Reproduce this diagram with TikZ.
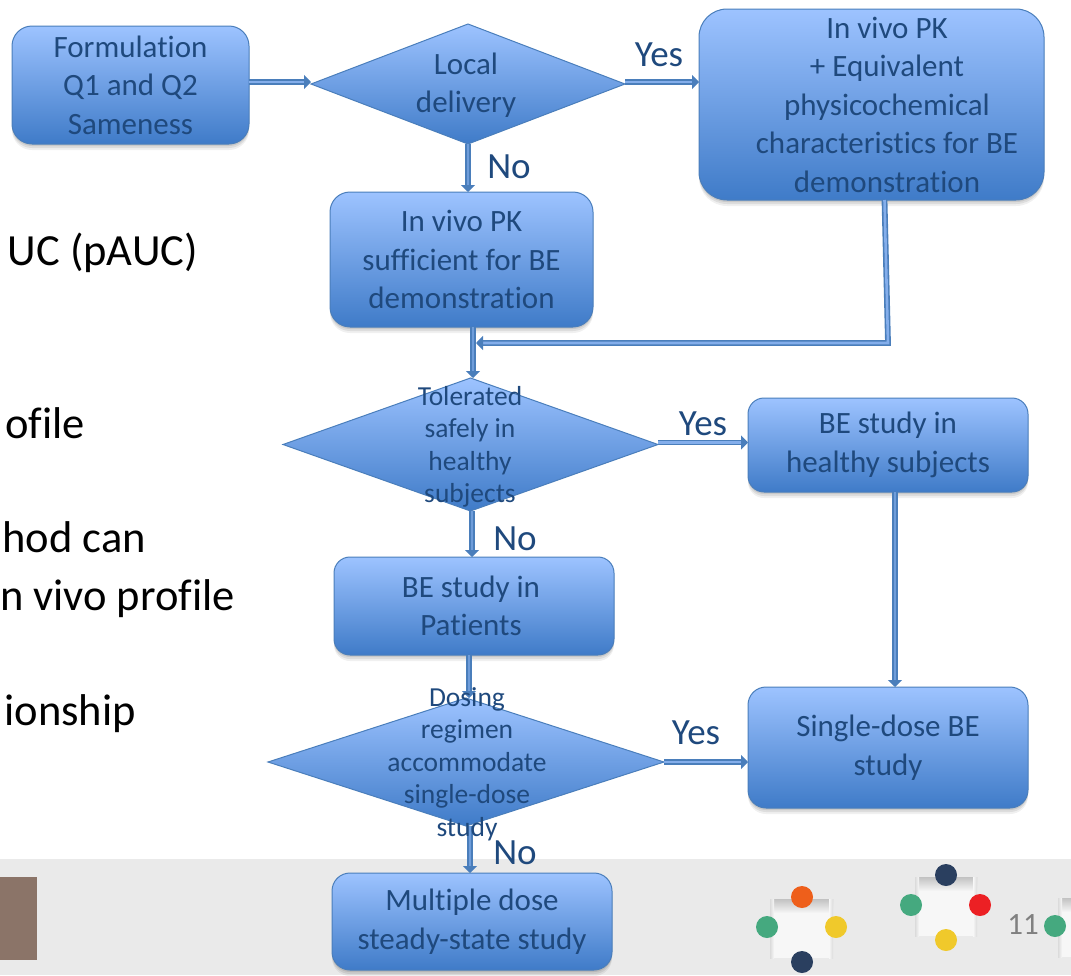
\documentclass[tikz,border=0pt]{standalone}
\usepackage{fontspec}
\setmainfont[Ligatures={NoCommon}]{Carlito}
\usetikzlibrary{arrows.meta,shapes.geometric,shadows,calc}
\definecolor{txt}{HTML}{1F497D}
\definecolor{edge}{HTML}{4A7EBB}
\definecolor{topc}{HTML}{9DC3FF}
\definecolor{botc}{HTML}{3F7BC8}
\definecolor{band}{HTML}{EAEAEA}
\definecolor{dgreen}{HTML}{45A97F}
\definecolor{dyellow}{HTML}{F0C92B}
\definecolor{dorange}{HTML}{EE5F1B}
\definecolor{dnavy}{HTML}{2A3F5F}
\definecolor{dred}{HTML}{EC2024}
\definecolor{brownblock}{HTML}{8B7468}
\tikzset{
  softshadow/.style={
    drop shadow={shadow xshift=0pt,shadow yshift=-2pt,opacity=.09,fill=black},
    drop shadow={shadow xshift=0pt,shadow yshift=-4pt,opacity=.08,fill=black},
    drop shadow={shadow xshift=0pt,shadow yshift=-6pt,opacity=.06,fill=black}},
  flowbox/.style={rectangle,rounded corners=#1,draw=edge,line width=1pt,top color=topc,bottom color=botc,
    softshadow,inner sep=0pt,outer sep=0pt,align=center,text=txt,font=\fontsize{31}{38.5}\selectfont},
  flowbox/.default=20pt,
  boxtext/.style={align=center,text=txt,inner sep=0pt,font=\fontsize{31}{38.5}\selectfont},
  decision/.style={diamond,draw=edge,line width=1pt,top color=topc,bottom color=botc,inner sep=0pt,outer sep=0pt},
  dectext/.style={align=center,text=txt,inner sep=0pt,font=\fontsize{27.5}{32.4}\selectfont},
  branch/.style={text=txt,inner sep=0pt,font=\fontsize{37}{40}\selectfont},
  bgtext/.style={anchor=base east,text=black,inner sep=0pt,font=\fontsize{44.5}{48}\selectfont},
  link/.style={draw=edge,line width=1.6pt,double=topc!70!edge,double distance=2.6pt},
  arrowlink/.style={link,-{Triangle[width=14pt,length=7pt,fill=edge]}},
  vertlink/.style={arrowlink,line width=2.2pt,double distance=2pt,double=topc!45!edge},
  dot/.style={circle,inner sep=0pt,minimum size=22pt,fill=#1}
}
\begin{document}
\begin{tikzpicture}[x=1pt,y=-1pt]
\useasboundingbox (0,0) rectangle (1071,975);
\clip (0,0) rectangle (1071,975);
% footer band
\fill[band] (0,859) rectangle (1071,975);
\fill[brownblock] (0,877) rectangle (37,960);
% decorative squares
\foreach \xa/\ya/\xb/\yb in {770/899/833/958, 915/877/977/936, 1058/898/1090/957}{
  \fill[white!60!band] (\xa,\ya) rectangle (\xb,\yb);
  \shade[top color=black!24,bottom color=white!60!band] (\xa,\ya) rectangle (\xb,\ya+14);
  \shade[left color=black!14,right color=white!60!band] (\xa,\ya) rectangle (\xa+4,\yb);
  \shade[right color=black!14,left color=white!60!band] (\xb-4,\ya) rectangle (\xb,\yb);
}
\node[dot=dorange] (d1) at (802,897) {};
\node[dot=dgreen]  (d2) at (767,927) {};
\node[dot=dyellow] (d3) at (836,927) {};
\node[dot=dnavy]   (d4) at (802,962) {};
\node[dot=dnavy]   (d5) at (946,875) {};
\node[dot=dgreen]  (d6) at (911,905) {};
\node[dot=dred]    (d7) at (980,905) {};
\node[dot=dyellow] (d8) at (946,940) {};
\node[dot=dgreen]  (d9) at (1055,926) {};
\node[text=black!50,inner sep=0pt,font=\fontsize{31}{32}\selectfont] (pg) at (1023,925) {11};
% clipped body text
\node[bgtext] (b1) at (198,265) {UC (pAUC)};
\node[bgtext] (b2) at (85,438) {ofile};
\node[bgtext] (b3) at (146,552) {hod can};
\node[bgtext] (b4) at (235,610) {n vivo profile};
\node[bgtext] (b5) at (136,725) {ionship};
% boxes
\node[flowbox,minimum width=237pt,minimum height=118pt] (form) at (130.5,85) {Formulation\\Q1 and Q2\\Sameness};
\node[flowbox=28pt,minimum width=345pt,minimum height=191pt] (plus) at (871.5,104.5) {};
\node[flowbox,minimum width=263pt,minimum height=135pt] (pk) at (461.5,259.5) {In vivo PK\\sufficient for BE\\demonstration};
\node[flowbox=16pt,minimum width=280pt,minimum height=94pt] (healthy) at (888,445) {BE study in\\healthy subjects};
\node[flowbox=16pt,minimum width=280pt,minimum height=98pt] (patients) at (474,606) {};
\node[flowbox=18pt,minimum width=280pt,minimum height=121pt] (single) at (888,747.5) {Single-dose BE\\study};
\node[flowbox=18pt,minimum width=280pt,minimum height=97pt] (multi) at (472,921.5) {Multiple dose\\steady-state study};
\node[boxtext] (plust) at (887,104.5) {In vivo PK\\+ Equivalent\\physicochemical\\characteristics for BE\\demonstration};
\node[boxtext] (patientst) at (471,606) {BE study in\\Patients};
% decisions
\node[decision,minimum width=314pt,minimum height=120pt] (local) at (468,84) {};
\node[decision,minimum width=375pt,minimum height=133pt] (tol) at (470.5,444.5) {};
\node[decision,minimum width=396pt,minimum height=128pt] (dose) at (466,762) {};
% connectors
\draw[arrowlink] ([yshift=3pt]form.east) -- ([yshift=3pt]form.east -| local.west);
\draw[arrowlink] ([yshift=2pt]local.east) -- ([yshift=2pt]local.east -| plus.west);
\draw[vertlink] (local.south) -- (local.south |- pk.north);
\coordinate (merge) at (473,343);
\coordinate (corner) at (888,343);
\coordinate (plusout) at (884.5,200);
\draw[vertlink] (merge |- pk.south) -- (merge |- tol.north);
\draw[arrowlink] (plusout) -- (corner) -- ([xshift=3pt]merge);
\draw[arrowlink] ([yshift=2pt]tol.east) -- ([yshift=2pt]tol.east -| healthy.west);
\draw[vertlink] ([xshift=7pt]healthy.south) -- ([xshift=7pt]single.north);
\draw[vertlink] ([xshift=1.5pt]tol.south) -- ([xshift=1.5pt]tol.south |- patients.north);
\coordinate (pout) at (469,655);
\coordinate (din) at (469,698);
\draw[vertlink] (pout) -- (din);
\draw[arrowlink] (dose.east) -- (dose.east -| single.west);
\draw[vertlink] ([xshift=4pt]dose.south) -- ([xshift=4pt]dose.south |- multi.north);
% decision text
\node[dectext,font=\fontsize{31}{38.5}\selectfont] (localt) at (466,85) {Local\\delivery};
\node[dectext] (tolt) at (470,447) {Tolerated\\safely in\\healthy\\subjects};
\node[dectext] (doset) at (467,764) {Dosing\\regimen\\accommodate\\single-dose\\study};
% branch labels
\node[branch] (y1) at (659,55) {Yes};
\node[branch] (n1) at (509,167) {No};
\node[branch] (y2) at (703,424) {Yes};
\node[branch] (n2) at (515,539) {No};
\node[branch] (y3) at (696,733) {Yes};
\node[branch] (n3) at (515,853) {No};
\end{tikzpicture}
\end{document}
